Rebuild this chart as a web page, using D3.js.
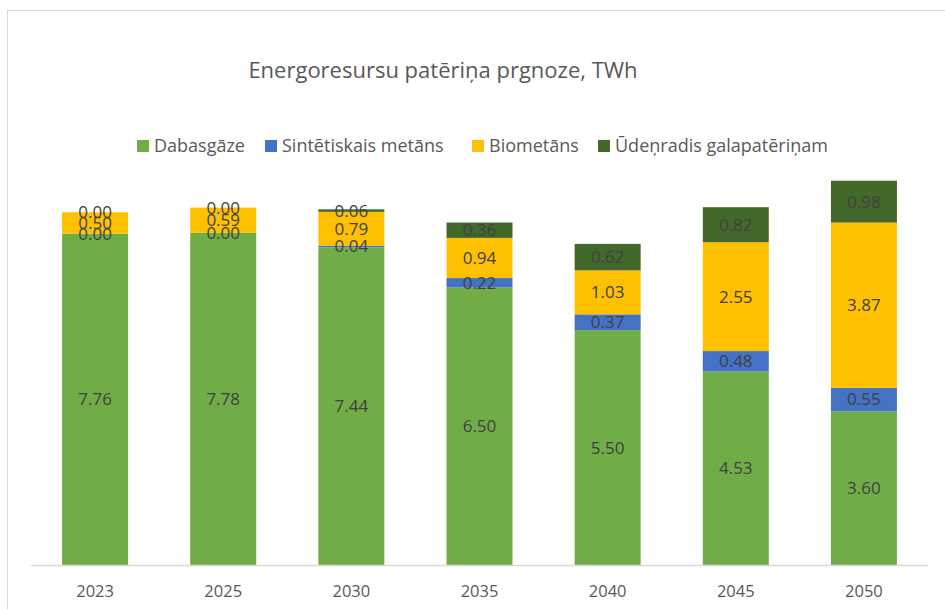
<!DOCTYPE html>
<html>
<head>
<meta charset="utf-8">
<script src="https://cdn.jsdelivr.net/npm/d3@7"></script>
<style>
  body { margin: 0; background: #fff; }
  svg { font-family: "Open Sans", sans-serif; }
</style>
</head>
<body>
<div id="chart"></div>
<script>
var years = ["2023", "2025", "2030", "2035", "2040", "2045", "2050"];
var seriesNames = ["Dabasgāze", "Sintētiskais metāns", "Biometāns", "Ūdeņradis galapatēriņam"];
var dabasgaze = [7.76, 7.78, 7.44, 6.50, 5.50, 4.53, 3.60];
var sintetiskais = [0.00, 0.00, 0.04, 0.22, 0.37, 0.48, 0.55];
var biometans = [0.50, 0.59, 0.79, 0.94, 1.03, 2.55, 3.87];
var udenradis = [0.00, 0.00, 0.06, 0.36, 0.62, 0.82, 0.98];
var colors = ["#70AD47", "#4472C4", "#FFC000", "#43682B"];

var width = 945, height = 609;

var svg = d3.select("#chart")
  .append("svg")
    .attr("width", width)
    .attr("height", height);

// outer chart border (runs off right / bottom edge)
svg.append("rect")
  .attr("x", 7.5).attr("y", 10.5)
  .attr("width", 1000).attr("height", 700)
  .attr("fill", "none")
  .attr("stroke", "#d9d9d9")
  .attr("stroke-width", 1);

// title
svg.append("text")
  .attr("x", 443).attr("y", 78)
  .attr("text-anchor", "middle")
  .attr("font-size", 22)
  .attr("fill", "#595959")
  .text("Energoresursu patēriņa prgnoze, TWh");

// legend
var legendX = [137, 265, 472, 598];
var legend = svg.append("g");
seriesNames.forEach(function(name, i) {
  legend.append("rect")
    .attr("x", legendX[i]).attr("y", 140)
    .attr("width", 12).attr("height", 12)
    .attr("fill", colors[i]);
  legend.append("text")
    .attr("x", legendX[i] + 17).attr("y", 152)
    .attr("font-size", 18)
    .attr("fill", "#595959")
    .text(name);
});

// data table
var table = years.map(function(y, i) {
  return {
    year: y,
    "Dabasgāze": dabasgaze[i],
    "Sintētiskais metāns": sintetiskais[i],
    "Biometāns": biometans[i],
    "Ūdeņradis galapatēriņam": udenradis[i]
  };
});

var stacked = d3.stack().keys(seriesNames)(table);

var x = d3.scaleBand()
  .domain(years)
  .range([31, 928])
  .paddingInner(0.485)
  .paddingOuter(0.2425);

var y = d3.scaleLinear()
  .domain([0, 10])
  .range([565, 138]);

var layers = svg.selectAll(".layer")
  .data(stacked)
  .enter().append("g")
    .attr("class", "layer")
    .attr("fill", function(d, i) { return colors[i]; });

layers.selectAll("rect")
  .data(function(d) { return d; })
  .enter().append("rect")
    .attr("x", function(d) { return x(d.data.year); })
    .attr("y", function(d) { return y(d[1]); })
    .attr("width", x.bandwidth())
    .attr("height", function(d) { return y(d[0]) - y(d[1]); });

// x axis baseline
svg.append("line")
  .attr("x1", 31).attr("x2", 928)
  .attr("y1", 565.5).attr("y2", 565.5)
  .attr("stroke", "#d9d9d9")
  .attr("stroke-width", 1.5);

var xAxis = svg.append("g")
  .attr("transform", "translate(0,565)")
  .call(d3.axisBottom(x).tickSize(0).tickPadding(20));
xAxis.select(".domain").remove();
xAxis.selectAll("text")
  .attr("font-family", "'Open Sans', sans-serif")
  .attr("font-size", 16.5)
  .attr("fill", "#595959");

// data labels
stacked.forEach(function(layer) {
  svg.append("g").selectAll("text")
    .data(layer)
    .enter().append("text")
      .attr("x", function(d) { return x(d.data.year) + x.bandwidth() / 2; })
      .attr("y", function(d) { return (y(d[0]) + y(d[1])) / 2; })
      .attr("dy", "0.35em")
      .attr("text-anchor", "middle")
      .attr("font-size", 17)
      .attr("fill", "#404040")
      .text(function(d) { return (d[1] - d[0]).toFixed(2); });
});
</script>
</body>
</html>
